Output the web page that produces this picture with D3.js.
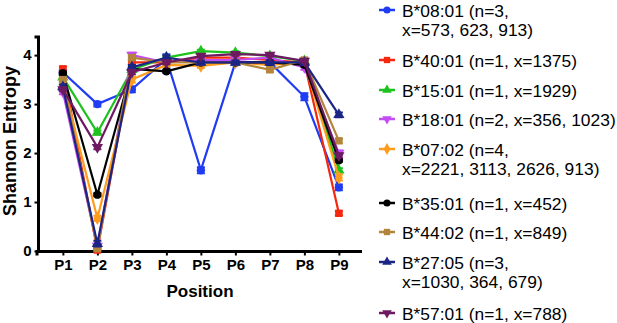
<!DOCTYPE html>
<html>
<head>
<meta charset="UTF-8">
<script src="https://d3js.org/d3.v7.min.js"></script>
<style>
  body { margin: 0; background: #fff; }
  svg { font-family: "Liberation Sans", Arial, sans-serif; }
</style>
</head>
<body>
<svg></svg>
<script>
  let width = 617, height = 323;

  // chart data
  const positions = ["P1", "P2", "P3", "P4", "P5", "P6", "P7", "P8", "P9"];
  const yTicks = [0, 1, 2, 3, 4];
  const seriesNames = ["B*08:01", "B*40:01", "B*15:01", "B*18:01", "B*07:02", "B*35:01", "B*44:02", "B*27:05", "B*57:01"];
  const legendLines = [
    ["B*08:01 (n=3,", "x=573, 623, 913)"],
    ["B*40:01 (n=1, x=1375)"],
    ["B*15:01 (n=1, x=1929)"],
    ["B*18:01 (n=2, x=356, 1023)"],
    ["B*07:02 (n=4,", "x=2221, 3113, 2626, 913)"],
    ["B*35:01 (n=1, x=452)"],
    ["B*44:02 (n=1, x=849)"],
    ["B*27:05 (n=3,", "x=1030, 364, 679)"],
    ["B*57:01 (n=1, x=788)"]
  ];
  const b0801 = [3.65, 3.00, 3.30, 3.92, 1.65, 3.85, 3.85, 3.15, 1.30];
  const b4001 = [3.72, 0.02, 3.85, 3.85, 3.95, 3.95, 3.90, 3.85, 0.77];
  const b1501 = [3.55, 2.42, 3.70, 3.95, 4.08, 4.05, 3.98, 3.88, 1.65];
  const b1801 = [3.25, 0.10, 4.00, 3.85, 3.90, 3.90, 3.95, 3.75, 2.00];
  const b0702 = [3.45, 0.67, 3.50, 3.80, 3.78, 3.85, 3.80, 3.85, 1.50];
  const b3501 = [3.63, 1.15, 3.72, 3.67, 3.85, 3.85, 3.85, 3.80, 1.85];
  const b4402 = [3.50, 0.05, 3.95, 3.85, 3.85, 3.85, 3.70, 3.90, 2.25];
  const b2705 = [3.35, 0.15, 3.75, 3.95, 3.85, 3.85, 3.85, 3.85, 2.78];
  const b5701 = [3.30, 2.12, 3.65, 3.85, 3.98, 4.02, 4.00, 3.88, 1.95];
  const b0801err = [0.05, 0.05, 0.06, 0.10, 0.06, 0.05, 0.05, 0.07, 0.06];
  const b4001err = [0.04, 0.03, 0.04, 0.03, 0.03, 0.03, 0.03, 0.03, 0.04];
  const b1501err = [0.04, 0.04, 0.04, 0.03, 0.03, 0.03, 0.03, 0.03, 0.04];
  const b1801err = [0.05, 0.05, 0.05, 0.04, 0.04, 0.04, 0.04, 0.05, 0.05];
  const b0702err = [0.06, 0.05, 0.06, 0.04, 0.04, 0.04, 0.04, 0.04, 0.06];
  const b3501err = [0.03, 0.03, 0.03, 0.03, 0.03, 0.03, 0.03, 0.03, 0.03];
  const b4402err = [0.04, 0.03, 0.04, 0.03, 0.03, 0.03, 0.04, 0.04, 0.04];
  const b2705err = [0.05, 0.06, 0.05, 0.04, 0.04, 0.04, 0.04, 0.05, 0.05];
  const b5701err = [0.04, 0.04, 0.04, 0.03, 0.03, 0.03, 0.03, 0.03, 0.04];

  const values = [b0801, b4001, b1501, b1801, b0702, b3501, b4402, b2705, b5701];
  const errors = [b0801err, b4001err, b1501err, b1801err, b0702err, b3501err, b4402err, b2705err, b5701err];
  const colors = ["#1f3cf2", "#f5280f", "#1ec21e", "#c44cf5", "#ff9c1c", "#000000", "#b3853a", "#1b2585", "#6e1a62"];
  const symbols = [d3.symbolCircle, d3.symbolSquare, d3.symbolTriangle, "down", d3.symbolDiamond,
                   d3.symbolCircle, d3.symbolSquare, d3.symbolTriangle, "down"];

  let svg = d3.select("svg")
    .attr("width", width)
    .attr("height", height);

  let x = d3.scaleLinear().domain([0.25, 9.67]).range([37, 362]);
  let y = d3.scaleLinear().domain([0, 4.37]).range([251, 37]);

  // axes
  let yAxis = svg.append("g")
    .attr("transform", "translate(38.5,0)")
    .call(d3.axisLeft(y).tickValues(yTicks).tickSize(4).tickPadding(3).tickFormat(d3.format("d")));
  let xAxis = svg.append("g")
    .attr("transform", "translate(0,251.5)")
    .call(d3.axisBottom(x).tickValues(d3.range(1, 10)).tickSize(4).tickPadding(4)
      .tickFormat((d, i) => positions[i]));
  [xAxis, yAxis].forEach(a => {
    a.select(".domain").attr("stroke-width", 3).attr("stroke", "#000");
    a.selectAll(".tick line").attr("stroke-width", 2);
    a.selectAll("text")
      .style("font-size", "15px")
      .style("font-weight", "bold")
      .style("font-family", "Liberation Sans, Arial, sans-serif")
      .attr("fill", "#000");
  });
  yAxis.select(".domain").attr("d", "M-4," + y(4.37) + "H0V" + 252);
  xAxis.select(".domain").attr("d", "M37,4H37V0H362");

  svg.append("text")
    .attr("x", 200).attr("y", 297)
    .attr("text-anchor", "middle")
    .style("font-size", "17px").style("font-weight", "bold")
    .text("Position");
  svg.append("text")
    .attr("transform", "translate(16,141) rotate(-90)")
    .attr("text-anchor", "middle")
    .style("font-size", "18px").style("font-weight", "bold")
    .text("Shannon Entropy");

  function symPath(s, size) {
    if (s === "down") return d3.symbol(d3.symbolTriangle, size)() ;
    return d3.symbol(s, size)();
  }
  function drawMarker(g, i, cx, cy, size) {
    let p = g.append("path")
      .attr("d", symPath(symbols[i], size))
      .attr("fill", colors[i]);
    p.attr("transform", "translate(" + cx + "," + cy + ")" + (symbols[i] === "down" ? " rotate(180)" : ""));
  }

  let line = d3.line().x((d, i) => x(i + 1)).y(d => y(d));

  let plot = svg.append("g");
  values.forEach((vals, s) => {
    let g = plot.append("g");
    g.append("path")
      .datum(vals)
      .attr("d", line)
      .attr("fill", "none")
      .attr("stroke", colors[s])
      .attr("stroke-width", 2.2);
    vals.forEach((v, i) => {
      let e = errors[s][i];
      let cx = x(i + 1);
      g.append("path")
        .attr("d", "M" + (cx - 4) + "," + y(v + e) + "H" + (cx + 4) +
          "M" + cx + "," + y(v + e) + "V" + y(v - e) +
          "M" + (cx - 4) + "," + y(v - e) + "H" + (cx + 4))
        .attr("stroke", colors[s])
        .attr("stroke-width", 2)
        .attr("fill", "none");
      drawMarker(g, s, cx, y(v), 55);
    });
  });

  // legend
  const legendY = [10, 60, 90, 119, 149, 203, 232, 262, 313];
  let legend = svg.append("g");
  legendLines.forEach((lines, i) => {
    let ly = legendY[i];
    legend.append("line")
      .attr("x1", 379).attr("x2", 395)
      .attr("y1", ly).attr("y2", ly)
      .attr("stroke", colors[i]).attr("stroke-width", 2.5);
    drawMarker(legend, i, 387, ly, 40);
    lines.forEach((t, k) => {
      legend.append("text")
        .attr("x", 402).attr("y", ly + 7 + k * 19)
        .style("font-size", "17.4px")
        .attr("fill", "#000")
        .text(t);
    });
  });
</script>
</body>
</html>
